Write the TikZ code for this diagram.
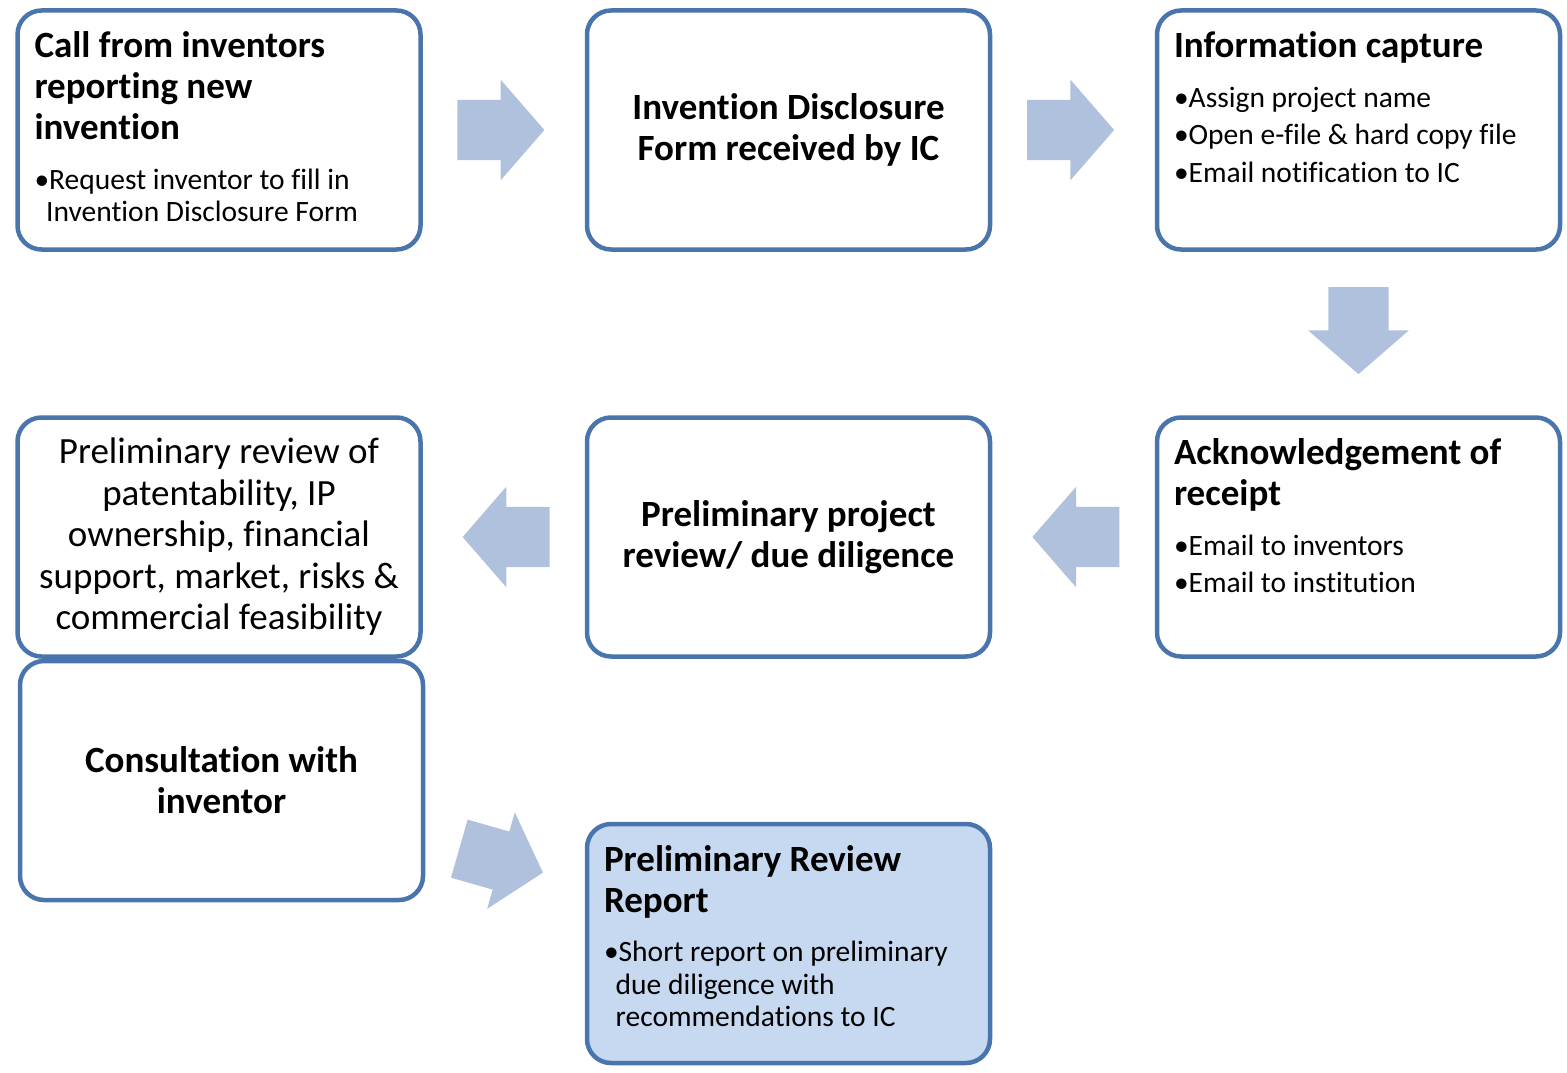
\documentclass[tikz,border=0pt]{standalone}
\usepackage{fontspec}
\setmainfont{Carlito}[Ligatures=NoCommon]
\usetikzlibrary{shapes.arrows,calc}

\definecolor{boxline}{RGB}{74,117,172}
\definecolor{arrowfill}{RGB}{176,193,221}
\definecolor{reportfill}{RGB}{198,217,241}

\newcommand{\headfont}{\fontsize{37}{41}\selectfont\bfseries}
\newcommand{\bodyfont}{\fontsize{37}{41.5}\selectfont}
\newcommand{\itemfont}{\fontsize{29.5}{32.5}\selectfont\mdseries}
\newlength{\bulletwd}
\newcommand{\bitem}[1]{\par\settowidth{\bulletwd}{•}\addtolength{\bulletwd}{-3pt}%
  \hangindent=\bulletwd\hangafter=1\noindent•#1}
\newcommand{\topbox}[2]{\begin{minipage}[c][239pt][t]{369pt}\raggedright
  \headfont\rule{0pt}{47pt}#1\par
  \itemfont\setlength{\parskip}{5pt}\vspace{12pt}#2\end{minipage}}

\tikzset{
  stepbox/.style={draw=boxline, line width=4.5pt, rounded corners=24pt, fill=white,
    minimum width=403pt, minimum height=239pt, inner sep=0pt},
  flowarrow/.style={single arrow, fill=arrowfill, draw=none,
    inner xsep=0pt, inner ysep=30pt, minimum width=100pt, minimum height=87pt,
    single arrow head extend=20pt, single arrow tip angle=98}
}

\begin{document}
\begin{tikzpicture}[x=1pt,y=-1pt]
\useasboundingbox (0,0) rectangle (1567,1073);
% top row
\node[stepbox] (call) at (219,130)
  {\topbox{Call from inventors\\reporting new\\invention}
    {\bitem{Request inventor to fill in\newline Invention Disclosure Form}}};
\node[stepbox, align=center, font=\headfont] (disclosure) at (788.5,130)
  {Invention Disclosure\\Form received by IC};
\node[stepbox] (capture) at (1358.5,130)
  {\topbox{Information capture}
    {\bitem{Assign project name}\bitem{Open e-file \& hard copy file}\bitem{Email notification to IC}}};
% middle row
\node[stepbox] (receipt) at (1358.5,537)
  {\topbox{Acknowledgement of\\receipt}
    {\bitem{Email to inventors}\bitem{Email to institution}}};
\node[stepbox, align=center, font=\headfont] (review) at (788.5,537)
  {Preliminary project\\review/ due diligence};
\node[stepbox, align=center, font=\bodyfont] (scope) at (219,537)
  {Preliminary review of\\patentability, IP\\ownership, financial\\support, market, risks \&\\commercial feasibility};
% bottom row
\node[stepbox, align=center, font=\headfont] (consult) at (221.5,780.5)
  {Consultation with\\inventor};
\node[stepbox, fill=reportfill] (report) at (788.5,943.5)
  {\topbox{Preliminary Review\\Report}
    {\bitem{Short report on preliminary\newline due diligence with\newline recommendations to IC}}};
% block arrows
\node[flowarrow] (arrowA) at ($(call.east)!0.5!(disclosure.west)+(-16,0)$) {};
\node[flowarrow] (arrowB) at ($(disclosure.east)!0.5!(capture.west)+(-16,0)$) {};
\node[flowarrow, rotate=-90] (arrowC) at ($(capture.south)!0.5!(receipt.north)+(0,-16)$) {};
\node[flowarrow, rotate=180] (arrowD) at ($(receipt.west)!0.5!(review.east)+(15.5,0)$) {};
\node[flowarrow, rotate=180] (arrowE) at ($(review.west)!0.5!(scope.east)+(15.5,0)$) {};
\node[flowarrow, rotate=-16] (arrowF) at ($(consult.east)!0.5!(report.west)+(-16.5,-5)$) {};
\end{tikzpicture}
\end{document}
